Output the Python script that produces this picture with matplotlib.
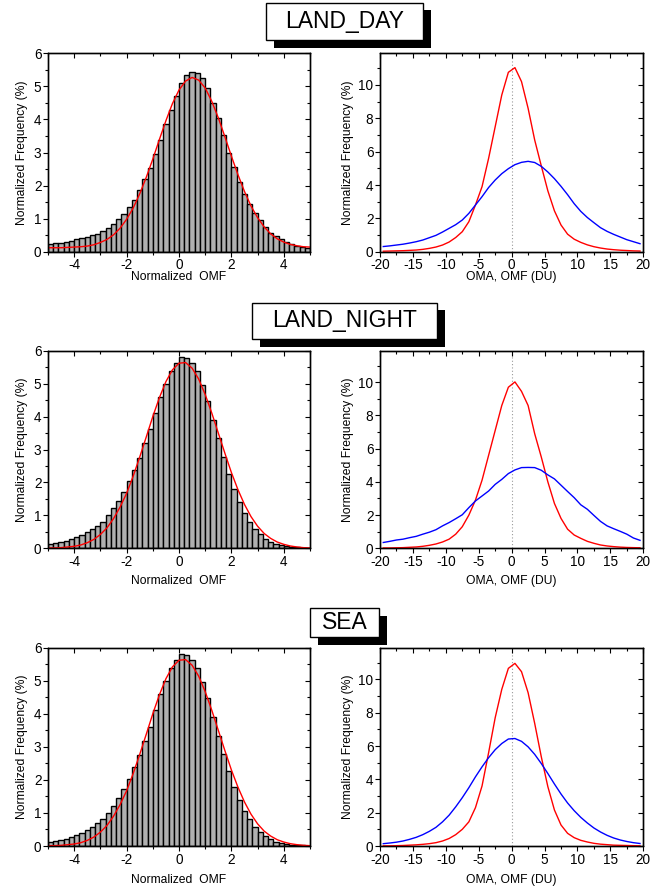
import numpy as np
import matplotlib
matplotlib.use("Agg")
import matplotlib.pyplot as plt
from matplotlib.patches import Rectangle
from matplotlib.ticker import MultipleLocator

plt.rcParams["font.family"] = ["Liberation Sans", "DejaVu Sans"]
plt.rcParams["axes.unicode_minus"] = False

# ---------------------------------------------------------------- data
panel_titles = ["LAND_DAY", "LAND_NIGHT", "SEA"]

# histogram bins of normalized OMF (left edges, width 0.2)
bin_width = 0.2
bin_left = np.round(np.arange(-5.0, 5.0, bin_width), 2)

day_hist = [0.22, 0.25, 0.27, 0.30, 0.32, 0.37, 0.40, 0.45, 0.49, 0.55,
            0.63, 0.73, 0.85, 0.98, 1.13, 1.36, 1.56, 1.86, 2.20, 2.52,
            2.94, 3.38, 3.86, 4.28, 4.71, 5.09, 5.34, 5.44, 5.39, 5.24,
            4.94, 4.49, 4.03, 3.53, 3.00, 2.55, 2.10, 1.74, 1.44, 1.16,
            0.96, 0.74, 0.58, 0.47, 0.37, 0.28, 0.23, 0.18, 0.13, 0.11]
night_hist = [0.12, 0.15, 0.18, 0.21, 0.27, 0.33, 0.39, 0.49, 0.58, 0.69,
              0.81, 1.01, 1.21, 1.44, 1.72, 2.04, 2.38, 2.75, 3.19, 3.61,
              4.12, 4.59, 4.98, 5.38, 5.62, 5.80, 5.79, 5.62, 5.38, 4.96,
              4.47, 3.90, 3.34, 2.78, 2.26, 1.80, 1.40, 1.06, 0.81, 0.58,
              0.43, 0.29, 0.20, 0.13, 0.09, 0.06, 0.04, 0.03, 0.02, 0.01]
sea_hist = [0.12, 0.15, 0.18, 0.21, 0.27, 0.33, 0.39, 0.49, 0.58, 0.69,
            0.81, 1.01, 1.21, 1.44, 1.72, 2.04, 2.38, 2.75, 3.19, 3.61,
            4.12, 4.59, 4.98, 5.38, 5.62, 5.80, 5.79, 5.62, 5.38, 4.96,
            4.47, 3.90, 3.34, 2.78, 2.26, 1.80, 1.40, 1.06, 0.81, 0.58,
            0.43, 0.29, 0.20, 0.13, 0.09, 0.06, 0.04, 0.03, 0.02, 0.01]

# fitted curve over the histograms
fit_x = np.round(np.arange(-5.0, 5.001, 0.25), 2)
day_fit = [0.12, 0.12, 0.12, 0.13, 0.14, 0.15, 0.17, 0.21, 0.28, 0.37,
           0.51, 0.71, 0.98, 1.32, 1.75, 2.25, 2.80, 3.39, 3.96, 4.48,
           4.89, 5.16, 5.27, 5.19, 4.95, 4.55, 4.05, 3.48, 2.89, 2.33,
           1.82, 1.38, 1.03, 0.75, 0.54, 0.39, 0.29, 0.22, 0.18, 0.15, 0.14]
night_fit = [0.01, 0.01, 0.02, 0.04, 0.06, 0.10, 0.17, 0.27, 0.42, 0.62,
             0.90, 1.25, 1.67, 2.19, 2.77, 3.38, 4.00, 4.57, 5.06, 5.42,
             5.62, 5.64, 5.47, 5.14, 4.67, 4.11, 3.50, 2.89, 2.30, 1.78,
             1.33, 0.96, 0.67, 0.45, 0.30, 0.19, 0.12, 0.07, 0.04, 0.02, 0.01]
sea_fit = [0.01, 0.01, 0.02, 0.04, 0.06, 0.10, 0.17, 0.27, 0.42, 0.62,
           0.90, 1.25, 1.67, 2.19, 2.77, 3.38, 4.00, 4.57, 5.06, 5.42,
           5.62, 5.64, 5.47, 5.14, 4.67, 4.11, 3.50, 2.89, 2.30, 1.78,
           1.33, 0.96, 0.67, 0.45, 0.30, 0.19, 0.12, 0.07, 0.04, 0.02, 0.01]

# OMA / OMF distributions in DU (bin centres)
du_x = np.arange(-19.5, 20.0, 1.0)
day_oma = [0.03, 0.04, 0.05, 0.06, 0.08, 0.10, 0.14, 0.20, 0.28, 0.40,
           0.58, 0.85, 1.20, 1.80, 2.80, 3.90, 5.60, 7.50, 9.40, 10.76,
           11.04, 10.20, 8.60, 6.70, 5.15, 3.65, 2.45, 1.60, 1.05, 0.75,
           0.56, 0.41, 0.30, 0.22, 0.16, 0.12, 0.09, 0.07, 0.05, 0.04]
day_omf = [0.31, 0.35, 0.40, 0.45, 0.52, 0.60, 0.70, 0.84, 0.98, 1.18,
           1.40, 1.62, 1.90, 2.30, 2.80, 3.30, 3.85, 4.30, 4.68, 4.98,
           5.22, 5.36, 5.42, 5.35, 5.12, 4.78, 4.38, 3.92, 3.42, 2.88,
           2.42, 2.05, 1.74, 1.44, 1.22, 1.04, 0.88, 0.72, 0.60, 0.48]
night_oma = [0.02, 0.02, 0.03, 0.04, 0.06, 0.08, 0.12, 0.18, 0.26, 0.38,
             0.55, 0.85, 1.30, 2.00, 2.90, 4.10, 5.60, 7.10, 8.60, 9.70,
             10.02, 9.45, 8.60, 6.90, 5.50, 4.00, 2.70, 1.80, 1.15, 0.80,
             0.60, 0.42, 0.30, 0.20, 0.14, 0.10, 0.07, 0.05, 0.04, 0.03]
night_omf = [0.35, 0.42, 0.50, 0.55, 0.64, 0.72, 0.85, 0.97, 1.12, 1.35,
             1.55, 1.78, 2.02, 2.45, 2.85, 3.15, 3.45, 3.85, 4.15, 4.50,
             4.72, 4.86, 4.87, 4.86, 4.70, 4.42, 4.18, 3.80, 3.42, 3.05,
             2.62, 2.35, 1.98, 1.62, 1.35, 1.18, 1.02, 0.85, 0.62, 0.48]
sea_oma = [0.01, 0.01, 0.02, 0.03, 0.05, 0.07, 0.10, 0.14, 0.20, 0.30,
           0.45, 0.68, 1.00, 1.45, 2.30, 3.60, 5.60, 7.70, 9.40, 10.66,
           10.96, 10.46, 9.20, 7.36, 5.36, 3.56, 2.16, 1.26, 0.76, 0.50,
           0.34, 0.24, 0.16, 0.11, 0.08, 0.05, 0.04, 0.03, 0.02, 0.01]
sea_omf = [0.14, 0.18, 0.23, 0.30, 0.40, 0.52, 0.68, 0.88, 1.12, 1.45,
           1.85, 2.35, 2.90, 3.50, 4.15, 4.75, 5.30, 5.78, 6.15, 6.42,
           6.45, 6.28, 5.95, 5.50, 4.95, 4.35, 3.72, 3.12, 2.58, 2.12,
           1.72, 1.38, 1.08, 0.84, 0.64, 0.48, 0.36, 0.27, 0.20, 0.15]

hists = [day_hist, night_hist, sea_hist]
fits = [day_fit, night_fit, sea_fit]
omas = [day_oma, night_oma, sea_oma]
omfs = [day_omf, night_omf, sea_omf]

# ---------------------------------------------------------------- layout
W, H = 662, 891
fig = plt.figure(figsize=(W / 100, H / 100), dpi=100)


def fbox(x0, y0, x1, y1):
    """pixel box (top-left origin) -> figure fraction [l, b, w, h]"""
    return [x0 / W, 1 - y1 / H, (x1 - x0) / W, (y1 - y0) / H]


rows = [(53.3, 251.7), (350.7, 548.3), (647.7, 846.0)]
xlabel_y = [-0.097, -0.137, -0.141]
left_cols = (48.0, 310.0)
right_cols = (380.0, 643.3)
title_boxes = [(266, 3, 423, 40), (252, 303, 437, 339), (310, 608, 379, 637)]

LABEL_FS = 8.7
TICK_FS = 9.8


def style_axes(ax, xmaj, xmin, ymaj, ymin, xlim, ylim):
    ax.set_xlim(*xlim)
    ax.set_ylim(*ylim)
    ax.xaxis.set_major_locator(MultipleLocator(xmaj))
    ax.xaxis.set_minor_locator(MultipleLocator(xmin))
    ax.yaxis.set_major_locator(MultipleLocator(ymaj))
    ax.yaxis.set_minor_locator(MultipleLocator(ymin))
    ax.tick_params(which="both", direction="out", width=0.8,
                   labelsize=TICK_FS, pad=1.2, top=False, right=False)
    ax.tick_params(which="major", length=3.5)
    ax.tick_params(which="minor", length=2)
    for s in ax.spines.values():
        s.set_linewidth(0.9)
    # mirrored inward ticks on the top and right edges
    axt = ax.twiny()
    axt.set_xlim(*xlim)
    axt.xaxis.set_major_locator(MultipleLocator(xmaj))
    axt.xaxis.set_minor_locator(MultipleLocator(xmin))
    axt.tick_params(which="both", direction="in", width=0.8,
                    labeltop=False, labelbottom=False, bottom=False)
    axt.tick_params(which="major", length=3.5)
    axt.tick_params(which="minor", length=2)
    axr = ax.twinx()
    axr.set_ylim(*ylim)
    axr.yaxis.set_major_locator(MultipleLocator(ymaj))
    axr.yaxis.set_minor_locator(MultipleLocator(ymin))
    axr.tick_params(which="both", direction="in", width=0.8,
                    labelright=False, labelleft=False, left=False)
    axr.tick_params(which="major", length=3.5)
    axr.tick_params(which="minor", length=2)
    for a in (axt, axr):
        for s in a.spines.values():
            s.set_linewidth(0.9)


for i, (top, bot) in enumerate(rows):
    # left: normalized OMF histogram with fitted curve
    axl = fig.add_axes(fbox(left_cols[0], top, left_cols[1], bot))
    axl.bar(bin_left, hists[i], width=bin_width, align="edge",
            color="#b0b0b0", edgecolor="black", linewidth=1.0, zorder=2)
    axl.plot(fit_x, fits[i], color="red", linewidth=1.0, zorder=3)
    style_axes(axl, 2, 1, 1, 0.5, (-5, 5), (0, 6))
    axl.set_xlabel("Normalized  OMF", fontsize=LABEL_FS)
    axl.set_ylabel("Normalized Frequency (%)", fontsize=LABEL_FS)
    axl.yaxis.set_label_coords(-0.076, 0.5)
    axl.xaxis.set_label_coords(0.5, xlabel_y[i])

    # right: OMA (red) and OMF (blue) distributions in DU
    axr = fig.add_axes(fbox(right_cols[0], top, right_cols[1], bot))
    axr.axvline(0, color="#9a9a9a", linestyle=(0, (1, 2)), linewidth=0.8,
                zorder=1)
    axr.plot(du_x, omas[i], color="red", linewidth=1.0, zorder=3)
    axr.plot(du_x, omfs[i], color="blue", linewidth=1.0, zorder=3)
    style_axes(axr, 5, 2.5, 2, 1, (-20, 20), (0, 11.9))
    axr.set_xlabel("OMA, OMF (DU)", fontsize=LABEL_FS)
    axr.set_ylabel("Normalized Frequency (%)", fontsize=LABEL_FS)
    axr.yaxis.set_label_coords(-0.099, 0.5)
    axr.xaxis.set_label_coords(0.5, xlabel_y[i])

    # region title box with drop shadow
    x0, y0, x1, y1 = title_boxes[i]
    off = 7.5
    l, b, w, h = fbox(x0 + off, y0 + off, x1 + off, y1 + off)
    fig.patches.append(Rectangle((l, b), w, h, transform=fig.transFigure,
                                 facecolor="black", edgecolor="black",
                                 linewidth=0, zorder=5))
    l, b, w, h = fbox(x0, y0, x1, y1)
    fig.patches.append(Rectangle((l, b), w, h, transform=fig.transFigure,
                                 facecolor="white", edgecolor="black",
                                 linewidth=1.0, zorder=6))
    fig.text(l + w / 2, b + h / 2, panel_titles[i], fontsize=16.5,
             ha="center", va="center", zorder=7)

fig.savefig("out.png", dpi=100)
